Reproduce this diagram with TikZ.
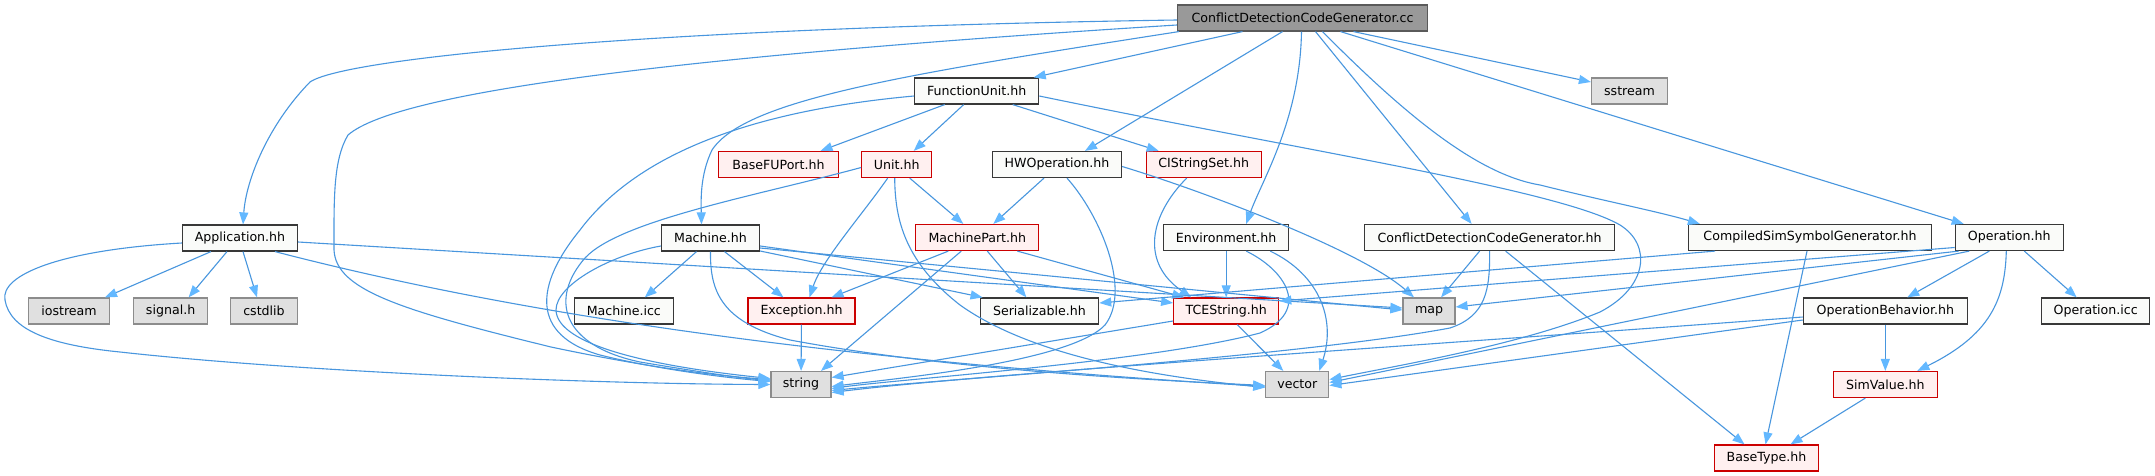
\documentclass[tikz,border=0pt]{standalone}
\usepackage{fontspec}
\setmainfont{DejaVu Sans}
\usetikzlibrary{arrows.meta}
\definecolor{edgec}{RGB}{99,184,255}
\definecolor{edgeline}{RGB}{72,150,222}
\definecolor{plainfill}{RGB}{250,251,249}
\definecolor{plainborder}{RGB}{56,56,56}
\definecolor{redfill}{RGB}{255,240,240}
\definecolor{redborder}{RGB}{204,0,0}
\definecolor{sysfill}{RGB}{224,224,224}
\definecolor{sysborder}{RGB}{140,140,140}
\definecolor{rootfill}{RGB}{153,153,153}
\definecolor{rootborder}{RGB}{90,90,90}
\begin{document}
\begin{tikzpicture}[x=1pt,y=-1pt,
  basebox/.style={line width=1.2pt,minimum height=26pt,inner sep=0pt,font=\fontsize{12.6}{14}\selectfont,text=black},
  plainbox/.style={basebox,draw=plainborder,fill=plainfill},
  redbox/.style={basebox,draw=redborder,fill=redfill},
  sysbox/.style={basebox,draw=sysborder,fill=sysfill},
  rootbox/.style={basebox,draw=rootborder,fill=rootfill},
  edge/.style={draw=edgeline,line width=1.1pt,-{Triangle[length=12pt,width=9pt,color=edgec,fill=edgec]}}]
\useasboundingbox (0,0) rectangle (2155,476);
\fill[white] (0,0) rectangle (2155,476);
% row 0
\node[rootbox,minimum width=250pt] (root) at (1302.5,18) {ConflictDetectionCodeGenerator.cc};
% row 1
\node[plainbox,minimum width=124pt] (fu) at (976.7,91) {FunctionUnit.hh};
\node[sysbox,minimum width=76pt] (sstream) at (1629.5,91) {sstream};
% row 2
\node[redbox,minimum width=120pt] (bfp) at (778.5,164.5) {BaseFUPort.hh};
\node[redbox,minimum width=70pt] (unit) at (896.7,164.5) {Unit.hh};
\node[plainbox,minimum width=129pt] (hwop) at (1057,164.5) {HWOperation.hh};
\node[redbox,minimum width=115pt] (ciss) at (1203.7,164.5) {CIStringSet.hh};
% row 3
\node[plainbox,minimum width=115pt] (app) at (240,238) {Application.hh};
\node[plainbox,minimum width=98pt] (machine) at (710.5,238) {Machine.hh};
\node[redbox,minimum width=123pt] (mp) at (977.3,237.5) {MachinePart.hh};
\node[plainbox,minimum width=125pt] (env) at (1226.2,237.5) {Environment.hh};
\node[plainbox,minimum width=250pt] (cdcgh) at (1489.6,237.5) {ConflictDetectionCodeGenerator.hh};
\node[plainbox,minimum width=243pt] (cssg) at (1810,237.5) {CompiledSimSymbolGenerator.hh};
\node[plainbox,minimum width=108pt] (op) at (2009.3,237.5) {Operation.hh};
% row 4
\node[sysbox,minimum width=81pt] (iostream) at (69,311) {iostream};
\node[sysbox,minimum width=74pt] (signal) at (170.6,311) {signal.h};
\node[sysbox,minimum width=67pt] (cstdlib) at (264,311) {cstdlib};
\node[plainbox,minimum width=99pt] (icc) at (623.8,311) {Machine.icc};
\node[redbox,minimum width=107pt] (exc) at (801.5,311) {Exception.hh};
\node[plainbox,minimum width=118.5pt] (ser) at (1039.4,311) {Serializable.hh};
\node[redbox,minimum width=105pt] (tce) at (1226.2,311) {TCEString.hh};
\node[sysbox,minimum width=52pt] (map) at (1429,311) {map};
\node[plainbox,minimum width=164pt] (opb) at (1885.3,311) {OperationBehavior.hh};
\node[plainbox,minimum width=108pt] (opicc) at (2095.7,311) {Operation.icc};
% row 5
\node[sysbox,minimum width=60pt] (string) at (801,384.5) {string};
\node[sysbox,minimum width=63pt] (vector) at (1297.3,384.5) {vector};
\node[redbox,minimum width=104pt] (sim) at (1885.3,384.5) {SimValue.hh};
% row 6
\node[redbox,minimum width=104pt] (bt) at (1766.5,458) {BaseType.hh};

% ---- root edges
\draw[edge] ([yshift=-2pt]root.west) .. controls (650,28) and (345,58) .. (310,82) .. controls (268,125) and (246,180) .. ([xshift=3pt]app.north);
\draw[edge] ([yshift=-7pt]root.west) .. controls (700,55) and (400,90) .. (348,135) .. controls (333,160) and (334,200) .. (334,250) .. controls (336,290) and (400,310) .. (551,347) .. controls (650,368) and (720,376) .. ([yshift=5pt]string.west);
\draw[edge] ([xshift=2pt]root.south west) .. controls (900,75) and (745,100) .. (712,150) .. controls (700,175) and (701,200) .. ([xshift=-9pt]machine.north);
\draw[edge] ([xshift=-60pt]root.south) -- ([xshift=57pt]fu.north);
\draw[edge] ([xshift=-20pt]root.south) -- ([xshift=28pt]hwop.north);
\draw[edge] ([xshift=-1pt]root.south) .. controls (1300,120) and (1262,180) .. ([xshift=20pt]env.north);
\draw[edge] ([xshift=13pt]root.south) -- ([xshift=-18pt]cdcgh.north);
\draw[edge] ([xshift=20pt]root.south) .. controls (1410,120) and (1480,175) .. (1540,185) .. controls (1600,200) and (1660,212) .. ([xshift=12pt]cssg.north west);
\draw[edge] ([xshift=38pt]root.south) -- ([xshift=9pt]op.north west);
\draw[edge] ([xshift=51pt]root.south) -- ([yshift=9pt]sstream.west);
% ---- Application
\draw[edge] ([xshift=-29pt]app.south) -- ([xshift=36pt]iostream.north);
\draw[edge] ([xshift=-13pt]app.south) -- ([xshift=18pt]signal.north);
\draw[edge] ([xshift=3pt]app.south) -- ([xshift=-7pt]cstdlib.north);
\draw[edge] ([yshift=-5pt]app.west) .. controls (60,250) and (0,275) .. (5,300) .. controls (10,330) and (50,345) .. (120,352) .. controls (300,372) and (600,384) .. (string.west);
\draw[edge] ([xshift=35pt]app.south) .. controls (500,310) and (800,358) .. ([yshift=-2pt]vector.west);
\draw[edge] ([yshift=-4pt]app.east) -- ([yshift=3pt]map.west);
% ---- FunctionUnit
\draw[edge] ([yshift=-5pt]fu.west) .. controls (760,110) and (640,150) .. (580,230) .. controls (535,285) and (530,335) .. (600,355) .. controls (660,370) and (730,378) .. ([yshift=3pt]string.west);
\draw[edge] ([xshift=-32pt]fu.south) -- ([xshift=42pt]bfp.north);
\draw[edge] ([xshift=-13pt]fu.south) -- ([xshift=17pt]unit.north);
\draw[edge] ([xshift=36pt]fu.south) -- ([xshift=-45pt]ciss.north);
\draw[edge] ([yshift=-5pt]fu.east) .. controls (1300,150) and (1560,190) .. (1620,225) .. controls (1652,245) and (1648,287) .. (1600,312) .. controls (1520,345) and (1400,365) .. ([yshift=5pt]vector.east);
% ---- Unit
\draw[edge] ([yshift=-3pt]unit.west) .. controls (760,195) and (620,220) .. (585,258) .. controls (550,298) and (560,345) .. (640,362) .. controls (700,372) and (740,378) .. ([yshift=4pt]string.west);
\draw[edge] ([xshift=-9pt]unit.south) .. controls (862,215) and (822,260) .. ([xshift=8pt]exc.north);
\draw[edge] ([xshift=-2pt]unit.south) .. controls (895,220) and (905,262) .. (960,305) .. controls (1030,355) and (1150,376) .. ([yshift=-3pt]vector.west);
\draw[edge] ([xshift=13pt]unit.south) -- ([xshift=-14pt]mp.north);
% ---- HWOperation
\draw[edge] ([xshift=-13pt]hwop.south) -- ([xshift=16pt]mp.north);
\draw[edge] ([xshift=10pt]hwop.south) .. controls (1100,215) and (1132,290) .. (1105,325) .. controls (1070,362) and (900,378) .. ([yshift=-2pt]string.east);
\draw[edge] ([yshift=-2pt]hwop.east) .. controls (1200,190) and (1360,250) .. ([xshift=-15pt]map.north);
% ---- CIStringSet
\draw[edge] ([xshift=-17pt]ciss.south) .. controls (1150,215) and (1140,262) .. ([xshift=-35pt]tce.north);
% ---- MachinePart
\draw[edge] ([xshift=-29pt]mp.south) -- ([xshift=30pt]exc.north);
\draw[edge] ([xshift=10pt]mp.south) -- ([xshift=-13pt]ser.north);
\draw[edge] ([xshift=40pt]mp.south) -- ([xshift=-42pt]tce.north);
\draw[edge] ([xshift=-16pt]mp.south) -- ([xshift=20pt]string.north);
% ---- Machine
\draw[edge] ([xshift=-14pt]machine.south) -- ([xshift=21pt]icc.north);
\draw[edge] ([xshift=14pt]machine.south) -- ([xshift=-18pt]exc.north);
\draw[edge] ([yshift=-13pt]machine.east) -- ([xshift=3pt]ser.north west);
\draw[edge] ([yshift=-8pt]machine.east) -- ([yshift=8pt]tce.west);
\draw[edge] ([yshift=-10pt]machine.east) -- ([yshift=1pt]map.west);
\draw[edge] ([yshift=-8pt]machine.west) .. controls (610,255) and (556,285) .. (556,310) .. controls (557,345) and (650,366) .. ([yshift=6pt]string.west);
\draw[edge] (machine.south) .. controls (710,290) and (720,322) .. (790,340) .. controls (950,370) and (1150,380) .. ([yshift=-1pt]vector.west);
% ---- Exception
\draw[edge] (exc) -- (string);
% ---- Environment
\draw[edge] (env) -- (tce);
\draw[edge] ([xshift=44pt]env.south) .. controls (1320,275) and (1336,320) .. ([xshift=22pt]vector.north);
\draw[edge] ([xshift=20pt]env.south) .. controls (1285,270) and (1312,310) .. (1260,333) .. controls (1150,362) and (900,379) .. ([yshift=-4pt]string.east);
% ---- TCEString
\draw[edge] ([yshift=-10pt]tce.west) -- ([yshift=7pt]string.east);
\draw[edge] ([xshift=11pt]tce.south) -- ([xshift=-14pt]vector.north);
% ---- CDCG.hh
\draw[edge] ([xshift=-10pt]cdcgh.south) -- ([xshift=12pt]map.north);
\draw[edge] (cdcgh.south) .. controls (1490,290) and (1486,316) .. (1450,328) .. controls (1300,356) and (950,379) .. ([yshift=-6pt]string.east);
\draw[edge] ([xshift=16pt]cdcgh.south) -- ([xshift=-22pt]bt.north);
% ---- CSSG
\draw[edge] ([xshift=-95pt]cssg.south) -- ([yshift=8pt]ser.east);
\draw[edge] ([xshift=-3pt]cssg.south) -- ([xshift=-1pt]bt.north);
% ---- Operation
\draw[edge] ([yshift=-10pt]op.west) -- ([yshift=10pt]tce.east);
\draw[edge] ([xshift=4pt]op.south west) -- ([yshift=4pt]map.east);
\draw[edge] ([xshift=-40pt]op.south) -- ([yshift=2pt]vector.east);
\draw[edge] ([xshift=-20pt]op.south) -- ([xshift=22pt]opb.north);
\draw[edge] ([xshift=-3pt]op.south) .. controls (2005,300) and (1990,335) .. ([xshift=32pt]sim.north);
\draw[edge] ([xshift=15pt]op.south) -- ([xshift=-19pt]opicc.north);
% ---- OperationBehavior
\draw[edge] (opb) -- (sim);
\draw[edge] ([yshift=-6pt]opb.west) .. controls (1500,340) and (1000,372) .. ([yshift=-8pt]string.east);
\draw[edge] ([yshift=-9pt]opb.west) -- ([yshift=-1pt]vector.east);
% ---- SimValue
\draw[edge] ([xshift=-20pt]sim.south) -- ([xshift=24pt]bt.north);
\end{tikzpicture}
\end{document}
